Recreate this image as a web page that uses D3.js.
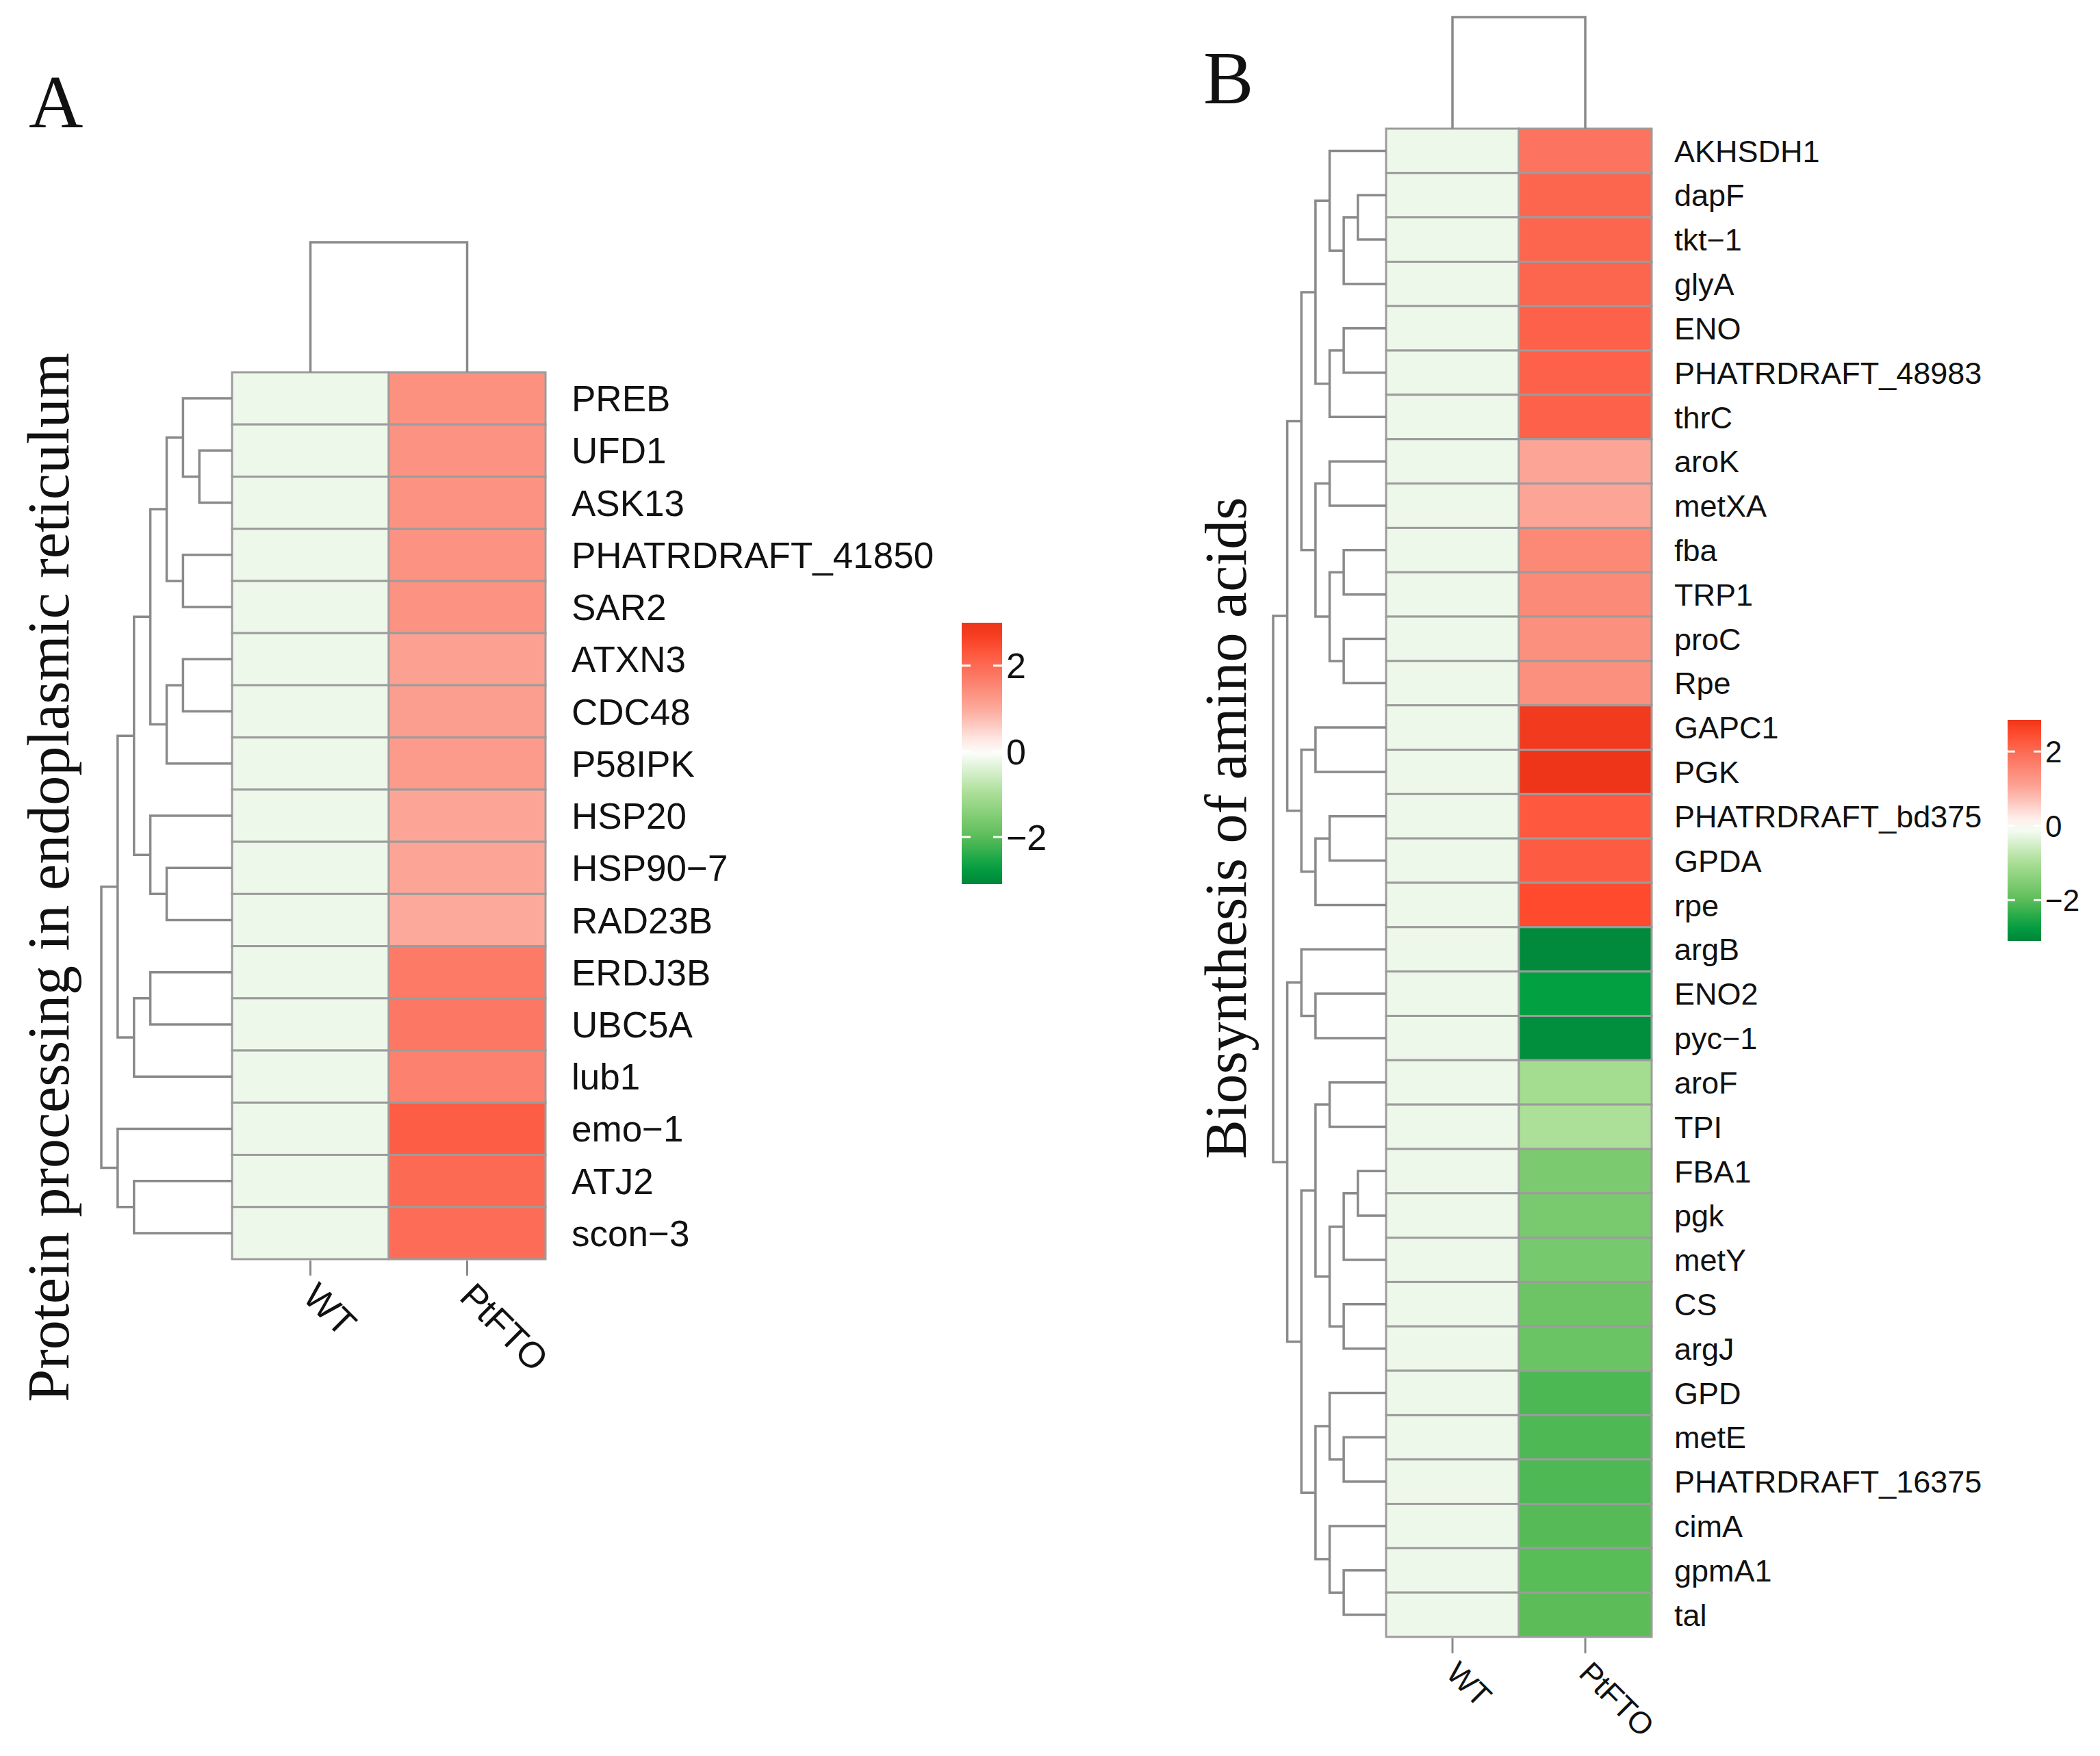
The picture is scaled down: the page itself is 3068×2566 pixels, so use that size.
<!DOCTYPE html>
<html>
<head>
<meta charset="utf-8">
<script src="https://cdn.jsdelivr.net/npm/d3@7"></script>
<style>
	body { margin: 0; background: #fff; }
	svg { display: block; }
</style>
</head>
<body>
<div id="graphicContainer"></div>
<script>

// ---- data ----

var samples = ["WT", "PtFTO"]

var genesA = ["PREB", "UFD1", "ASK13", "PHATRDRAFT_41850", "SAR2", "ATXN3", "CDC48", "P58IPK",
	"HSP20", "HSP90\u22127", "RAD23B", "ERDJ3B", "UBC5A", "lub1", "emo\u22121", "ATJ2", "scon\u22123"]
var wtA = [-0.2, -0.2, -0.2, -0.2, -0.2, -0.2, -0.2, -0.2, -0.2, -0.2, -0.2, -0.2, -0.2, -0.2, -0.2, -0.2, -0.2]
var ptftoA = [1.36, 1.34, 1.34, 1.33, 1.33, 1.11, 1.15, 1.21, 1.03, 1.03, 0.98, 1.74, 1.77, 1.61, 2.2, 2.0, 1.97]

// hclust style merges: negative = row (1-based), positive = earlier merge, then height
var mergesA = [
	[-2, -3, 2], [-1, 1, 3], [-4, -5, 3], [-6, -7, 3], [2, 3, 4], [4, -8, 4],
	[-10, -11, 4], [5, 6, 5], [-9, 7, 5], [-12, -13, 5], [8, 9, 6], [10, -14, 6],
	[-16, -17, 6], [11, 12, 7], [-15, 13, 7], [14, 15, 8]
]

var genesB = ["AKHSDH1", "dapF", "tkt\u22121", "glyA", "ENO", "PHATRDRAFT_48983", "thrC", "aroK", "metXA",
	"fba", "TRP1", "proC", "Rpe", "GAPC1", "PGK", "PHATRDRAFT_bd375", "GPDA", "rpe", "argB", "ENO2",
	"pyc\u22121", "aroF", "TPI", "FBA1", "pgk", "metY", "CS", "argJ", "GPD", "metE", "PHATRDRAFT_16375",
	"cimA", "gpmA1", "tal"]
var wtB = [-0.2, -0.2, -0.2, -0.2, -0.2, -0.2, -0.2, -0.2, -0.2, -0.2, -0.2, -0.2, -0.2, -0.2, -0.2, -0.2, -0.2,
	-0.2, -0.2, -0.2, -0.2, -0.2, -0.2, -0.2, -0.2, -0.2, -0.2, -0.2, -0.2, -0.2, -0.2, -0.2, -0.2, -0.2]
var ptftoB = [1.84, 2.06, 2.06, 2.08, 2.14, 2.14, 2.14, 1.03, 1.05, 1.51, 1.48, 1.38, 1.38, 2.77, 2.85,
	2.28, 2.22, 2.5, -3.03, -2.7, -2.97, -1.07, -0.96, -1.6, -1.62, -1.65, -1.79, -1.8, -2.13, -2.12,
	-2.12, -2.05, -2.03, -2.0]

var mergesB = [
	[-2, -3, 2], [1, -4, 3], [-1, 2, 4], [-5, -6, 3], [4, -7, 4], [3, 5, 5],
	[-8, -9, 4], [-10, -11, 3], [-12, -13, 3], [8, 9, 4], [7, 10, 5], [6, 11, 6],
	[-14, -15, 5], [-16, -17, 4], [14, -18, 5], [13, 15, 6], [12, 16, 7],
	[-20, -21, 5], [-19, 18, 6], [-22, -23, 4], [-24, -25, 2], [21, -26, 3],
	[-27, -28, 3], [22, 23, 4], [20, 24, 5], [-30, -31, 3], [-29, 26, 4],
	[-33, -34, 3], [-32, 28, 4], [27, 29, 5], [25, 30, 6], [19, 31, 7], [17, 32, 8]
]

var colMerges = [[-1, -2, 1]]

var legendTicks = [-2, 0, 2]
var legendRangeA = [-3.1, 3.0]
var legendRangeB = [-3.1, 2.85]

var titleA = "Protein processing in endoplasmic reticulum"
var titleB = "Biosynthesis of amino acids"

// ---- colours ----

var colorStops = [-3.1, -2.7, -2, -1, 0, 1, 2, 2.5, 2.85]
var colorRange = ["#00853a", "#03a042", "#5cbd58", "#a9de94", "#ffffff", "#fca799", "#fc6a54", "#ff4a2d", "#ee3519"]

var color = d3.scaleLinear()
	.domain(colorStops)
	.range(colorRange)
	.clamp(true)

var width = 3068
var height = 2566

var svg = d3.select("#graphicContainer").append("svg")
	.attr("width", width)
	.attr("height", height)
	.attr("viewBox", [0, 0, width, height])

var sans = "'Liberation Sans', Arial, Helvetica, sans-serif"
var serif = "'Liberation Serif', 'Times New Roman', Times, serif"
var lineColor = "#8a8a8a"
var borderColor = "#9c9c9c"

var minus = d => String(d).replace("-", "\u2212")

function heatmap(o) {

	var g = svg.append("g")

	var x = d3.scaleBand()
		.domain(samples)
		.range([o.left, o.right])

	var y = d3.scaleBand()
		.domain(o.genes)
		.range([o.top, o.bottom])

	var cells = []
	o.genes.forEach((gene, i) => {
		cells.push({gene: gene, sample: "WT", value: o.wt[i]})
		cells.push({gene: gene, sample: "PtFTO", value: o.ptfto[i]})
	})

	g.append("g")
		.selectAll("rect")
		.data(cells)
		.join("rect")
			.attr("x", d => x(d.sample))
			.attr("y", d => y(d.gene))
			.attr("width", x.bandwidth())
			.attr("height", y.bandwidth())
			.attr("fill", d => color(d.value))
			.attr("stroke", borderColor)
			.attr("stroke-width", 3)

	// row dendrogram
	var maxH = d3.max(o.merges, d => d[2])
	var dx = d3.scaleLinear()
		.domain([0, maxH])
		.range([o.left, o.left - o.rowTree])

	var rowTree = g.append("g")
		.attr("fill", "none")
		.attr("stroke", lineColor)
		.attr("stroke-width", 3.5)

	var nodes = []
	var node = k => k < 0 ? {pos: y(o.genes[-k - 1]) + y.bandwidth() / 2, h: 0} : nodes[k - 1]

	o.merges.forEach(([a, b, h]) => {
		var na = node(a), nb = node(b)
		rowTree.append("path")
			.attr("d", `M${dx(na.h)},${na.pos}H${dx(h)}V${nb.pos}H${dx(nb.h)}`)
		nodes.push({pos: (na.pos + nb.pos) / 2, h: h})
	})

	// column dendrogram
	var dy = d3.scaleLinear()
		.domain([0, d3.max(colMerges, d => d[2])])
		.range([o.top, o.top - o.colTree])

	var colNodes = []
	var colNode = k => k < 0 ? {pos: x(samples[-k - 1]) + x.bandwidth() / 2, h: 0} : colNodes[k - 1]

	colMerges.forEach(([a, b, h]) => {
		var na = colNode(a), nb = colNode(b)
		g.append("path")
			.attr("fill", "none")
			.attr("stroke", lineColor)
			.attr("stroke-width", 3.5)
			.attr("d", `M${na.pos},${dy(na.h)}V${dy(h)}H${nb.pos}V${dy(nb.h)}`)
		colNodes.push({pos: (na.pos + nb.pos) / 2, h: h})
	})

	// row labels
	g.append("g")
		.attr("font-family", sans)
		.attr("font-size", o.fontSize)
		.attr("fill", "#111")
		.selectAll("text")
		.data(o.genes)
		.join("text")
			.attr("x", o.right + o.labelGap)
			.attr("y", d => y(d) + y.bandwidth() / 2)
			.attr("dy", "0.36em")
			.text(d => d)

	// column ticks and labels
	var colAxis = g.append("g")
		.selectAll("g")
		.data(samples)
		.join("g")
			.attr("transform", d => `translate(${x(d) + x.bandwidth() / 2},${o.bottom})`)

	colAxis.append("line")
		.attr("y1", 2)
		.attr("y2", 24)
		.attr("stroke", lineColor)
		.attr("stroke-width", 3)

	colAxis.append("text")
		.attr("transform", "translate(0,44) rotate(45)")
		.attr("dy", "0.36em")
		.attr("font-family", sans)
		.attr("font-size", o.fontSize)
		.attr("fill", "#111")
		.text(d => d)

	// title and panel letter
	svg.append("text")
		.attr("transform", `translate(${o.titleX},${o.titleY}) rotate(-90)`)
		.attr("text-anchor", "middle")
		.attr("font-family", serif)
		.attr("font-size", 86)
		.attr("fill", "#111")
		.text(o.title)

	svg.append("text")
		.attr("x", o.letterX)
		.attr("y", o.letterY)
		.attr("font-family", serif)
		.attr("font-size", 110)
		.attr("fill", "#111")
		.text(o.letter)

	// legend
	var ly = d3.scaleLinear()
		.domain(o.legendRange)
		.range([o.legendBottom, o.legendTop])

	var gradId = "grad" + o.letter
	var grad = svg.append("defs").append("linearGradient")
		.attr("id", gradId)
		.attr("x1", 0).attr("x2", 0)
		.attr("y1", 1).attr("y2", 0)

	d3.range(0, 1.0001, 0.05).forEach(t => {
		var v = o.legendRange[0] + t * (o.legendRange[1] - o.legendRange[0])
		grad.append("stop")
			.attr("offset", t)
			.attr("stop-color", color(v))
	})

	var legend = svg.append("g")

	legend.append("rect")
		.attr("x", o.legendX)
		.attr("y", o.legendTop)
		.attr("width", o.legendW)
		.attr("height", o.legendBottom - o.legendTop)
		.attr("fill", `url(#${gradId})`)

	var lt = legend.selectAll("g")
		.data(legendTicks)
		.join("g")
			.attr("transform", d => `translate(${o.legendX},${ly(d)})`)

	lt.append("line")
		.attr("x1", 0).attr("x2", o.legendW * 0.22)
		.attr("stroke", "#fff").attr("stroke-width", 3)
	lt.append("line")
		.attr("x1", o.legendW * 0.78).attr("x2", o.legendW)
		.attr("stroke", "#fff").attr("stroke-width", 3)
	lt.append("text")
		.attr("x", o.legendW + 6)
		.attr("dy", "0.36em")
		.attr("font-family", sans)
		.attr("font-size", o.legendFont)
		.attr("fill", "#111")
		.text(minus)
}

heatmap({
	letter: "A", letterX: 42, letterY: 186,
	title: titleA, titleX: 100, titleY: 1282,
	genes: genesA, wt: wtA, ptfto: ptftoA, merges: mergesA,
	left: 339, right: 797, top: 544, bottom: 1840,
	rowTree: 191, colTree: 190,
	fontSize: 53, labelGap: 38,
	legendX: 1405, legendW: 59, legendTop: 910, legendBottom: 1292,
	legendRange: legendRangeA, legendFont: 52
})

heatmap({
	letter: "B", letterX: 1758, letterY: 151,
	title: titleB, titleX: 1820, titleY: 1210,
	genes: genesB, wt: wtB, ptfto: ptftoB, merges: mergesB,
	left: 2025, right: 2413, top: 188, bottom: 2392,
	rowTree: 165, colTree: 163,
	fontSize: 45, labelGap: 33,
	legendX: 2933, legendW: 49, legendTop: 1052, legendBottom: 1375,
	legendRange: legendRangeB, legendFont: 44
})

</script>
</body>
</html>
